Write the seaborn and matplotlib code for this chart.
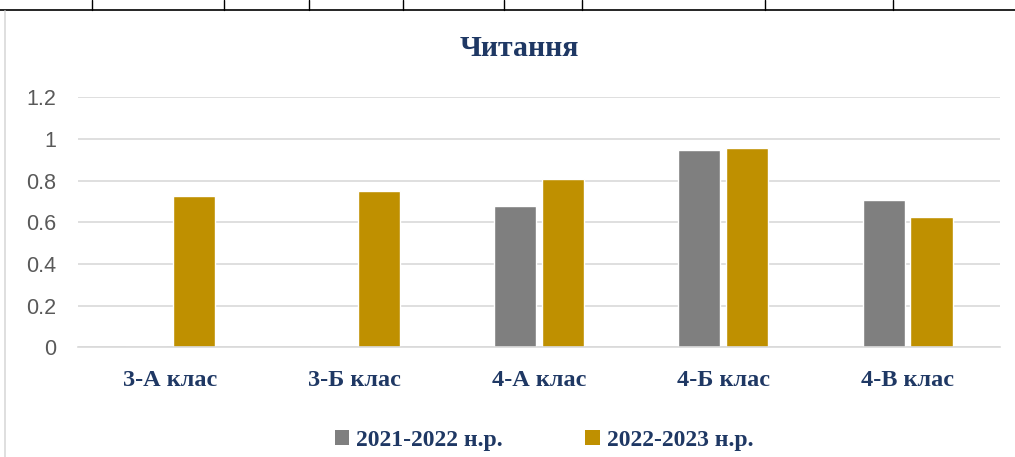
import pandas as pd
import matplotlib.pyplot as plt
import seaborn as sns
from matplotlib.lines import Line2D
from matplotlib.patches import Patch

# Дані діаграми
classes = ['3-А клас', '3-Б клас', '4-А клас', '4-Б клас', '4-В клас']
years = ['2021-2022 н.р.', '2022-2023 н.р.']
values_2122 = [0, 0, 0.68, 0.945, 0.705]
values_2223 = [0.725, 0.75, 0.81, 0.955, 0.625]
y_ticks = [0, 0.2, 0.4, 0.6, 0.8, 1, 1.2]
y_tick_labels = ['0', '0.2', '0.4', '0.6', '0.8', '1', '1.2']

df = pd.DataFrame({
    'Клас': classes * 2,
    'Рік': [years[0]] * len(classes) + [years[1]] * len(classes),
    'Значення': values_2122 + values_2223,
})

navy = '#1F3864'
colors = {years[0]: '#7F7F7F', years[1]: '#BF9000'}

sns.set_style('white')
fig = plt.figure(figsize=(10.15, 4.57), dpi=100)
ax = fig.add_axes([0.077, 0.24, 0.908, 0.547])

sns.barplot(data=df, x='Клас', y='Значення', hue='Рік', palette=colors,
            width=0.52, gap=0.12, ax=ax, legend=False, saturation=1)

ax.set_ylim(0, 1.2)
ax.set_xlim(-0.5, 4.5)
ax.set_yticks(y_ticks)
ax.set_yticklabels(y_tick_labels, fontsize=15.5, color='#595959', family='Liberation Sans')
ax.tick_params(axis='y', length=0, pad=16)
ax.tick_params(axis='x', length=0, pad=16)
for lbl in ax.get_xticklabels():
    lbl.set_family('Liberation Serif')
    lbl.set_fontweight('bold')
    lbl.set_fontsize(17.5)
    lbl.set_color(navy)
ax.set_xlabel('')
ax.set_ylabel('')
ax.grid(axis='y', color='#D9D9D9', linewidth=1.2)
ax.set_axisbelow(True)
for s in ['top', 'right', 'left']:
    ax.spines[s].set_visible(False)
ax.spines['bottom'].set_color('#D9D9D9')
ax.spines['bottom'].set_linewidth(1.2)

fig.text(0.512, 0.893, 'Читання', ha='center', va='center', fontsize=21.5,
         fontweight='bold', color=navy, family='Liberation Serif')

handles = [Patch(facecolor=colors[y], edgecolor='none') for y in years]
leg = fig.legend(handles, years, loc='center', bbox_to_anchor=(0.536, 0.037), ncol=2,
                 frameon=False, handlelength=0.6, handleheight=0.6, columnspacing=3.5,
                 handletextpad=0.3, prop={'family': 'Liberation Serif', 'weight': 'bold', 'size': 17})
for t in leg.get_texts():
    t.set_color(navy)

# Рамка таблиці зверху та ліва межа
fig.add_artist(Line2D([0, 1], [0.979, 0.979], color='black', linewidth=1.2, transform=fig.transFigure))
for x in [92, 224, 309, 403, 504, 582, 765, 893]:
    fig.add_artist(Line2D([x / 1015, x / 1015], [0.979, 1], color='black', linewidth=1, transform=fig.transFigure))
fig.add_artist(Line2D([0.005, 0.005], [0, 0.975], color='#D9D9D9', linewidth=1.2, transform=fig.transFigure))

fig.savefig('out.png', dpi=100)
